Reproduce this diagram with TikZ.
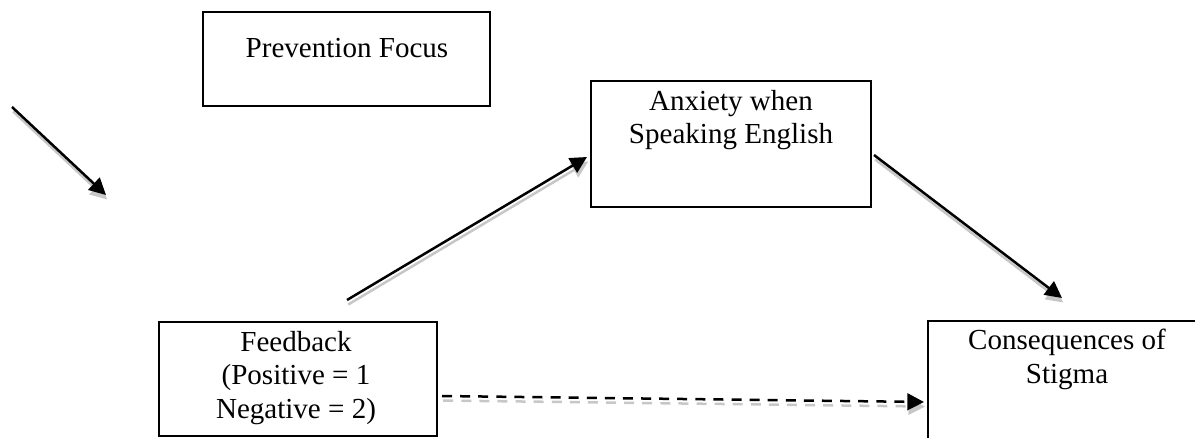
\documentclass[tikz,border=0pt]{standalone}
\usepackage{fontspec}
\setmainfont{Liberation Serif}
\usetikzlibrary{math,arrows.meta,fit}

\tikzset{
	conbox/.style={draw, line width=1.1pt, inner sep=0pt},
	boxtext/.style={anchor=north, align=center, inner sep=0pt, font=\fontsize{12.2}{14}\selectfont},
	link/.style={line width=1.05pt, -{Triangle[length=7pt, width=7pt]}},
	linkshadow/.style={link, black!22, transform canvas={shift={(0.5pt,-1.9pt)}}},
	dashlink/.style={link, dash pattern=on 4.2pt off 3.4pt},
}

\begin{document}
\begin{tikzpicture}[x=0.42pt, y=-0.42pt]
	% Page
	\useasboundingbox (0, 0) rectangle (1195, 438);
	\clip (0, 0) rectangle (1195, 438);

	% Boxes
	\node[conbox, fit={(203, 12) (490, 106)}] (prev) {};
	\node[conbox, fit={(591, 81) (871, 207)}] (anx) {};
	\node[conbox, fit={(159, 322) (437, 436)}] (fb) {};
	\node[conbox, fit={(928, 321) (1206, 470)}] (cons) {};

	% Texts in boxes
	\node[boxtext] (prevtext) at (347, 38) {Prevention Focus};
	\node[boxtext] (anxtext) at (731, 90) {Anxiety when\\Speaking English};
	\node[boxtext] (fbtext) at (296, 331) {Feedback\\(Positive = 1\\Negative = 2)};
	\node[boxtext] (constext) at (1067, 329) {Consequences of\\Stigma};

	% Arrow ends
	\coordinate (pfout) at (12, 107);
	\coordinate (pfin) at (106, 195);
	\coordinate (fbout) at (347, 300);
	\coordinate (anxin) at (587, 157);
	\coordinate (anxout) at (874, 155);
	\coordinate (consin) at (1062, 298);
	\coordinate (fbright) at (442, 396);
	\coordinate (consleft) at (924, 402);

	% Arrows with their shadows
	\foreach \from/\to in {pfout/pfin, fbout/anxin, anxout/consin} {
			\draw[linkshadow] (\from) -- (\to);
			\draw[link] (\from) -- (\to);
		}
	% Direct path
	\draw[dashlink, black!22, transform canvas={shift={(0.5pt,-1.9pt)}}] (fbright) -- (consleft);
	\draw[dashlink] (fbright) -- (consleft);
\end{tikzpicture}
\end{document}
